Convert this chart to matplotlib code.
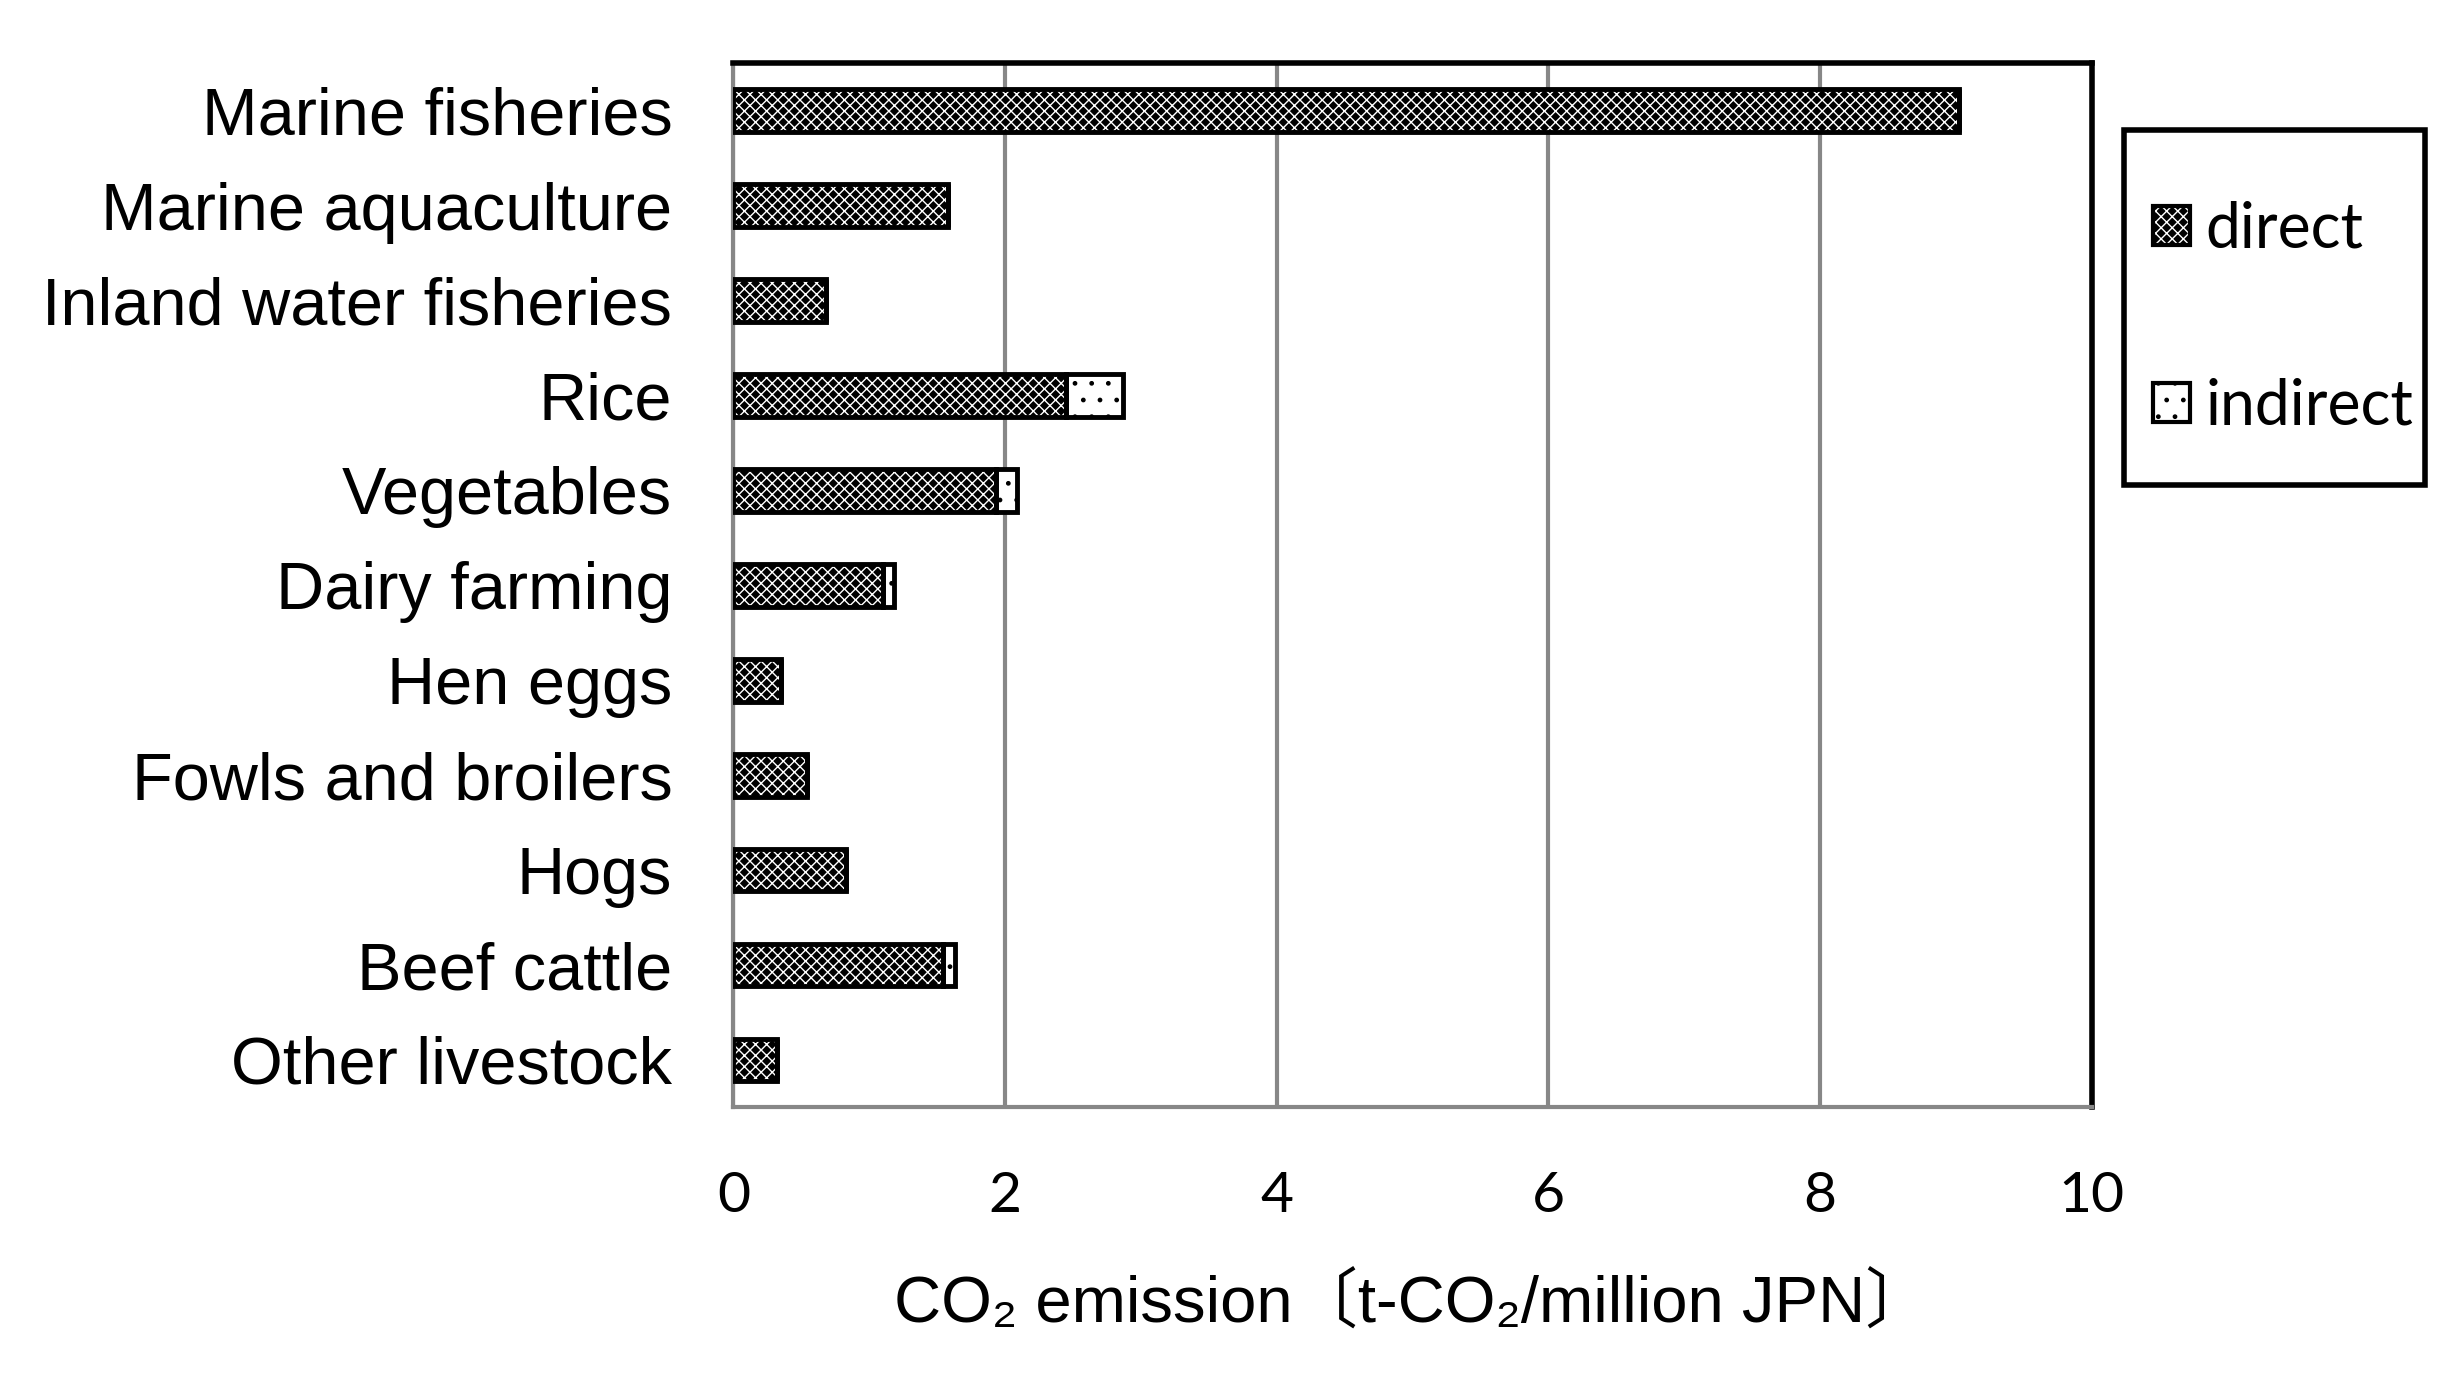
import matplotlib
matplotlib.use("Agg")

import numpy as np
import matplotlib.pyplot as plt
from matplotlib.patches import Patch, Rectangle
from matplotlib.legend_handler import HandlerTuple

# ---- data (t-CO2 / million JPN) ----
categories = [
    "Marine fisheries", "Marine aquaculture", "Inland water fisheries", "Rice",
    "Vegetables", "Dairy farming", "Hen eggs", "Fowls and broilers", "Hogs",
    "Beef cattle", "Other livestock",
]
direct = [9.02, 1.58, 0.68, 2.45, 1.93, 1.10, 0.35, 0.54, 0.83, 1.54, 0.32]
indirect = [0.0, 0.0, 0.0, 0.42, 0.16, 0.08, 0.0, 0.0, 0.0, 0.09, 0.0]
xticks = [0, 2, 4, 6, 8, 10]
series_labels = ["direct", "indirect"]

LABEL_FONT = ["Liberation Sans", "Noto Sans CJK JP", "DejaVu Sans"]
TICK_FONT = ["Lato", "DejaVu Sans"]
GRID_GRAY = "#878787"
DIRECT_HATCH = "xxx"
INDIRECT_HATCH = "."

plt.rcParams["font.family"] = LABEL_FONT
plt.rcParams["hatch.linewidth"] = 1.0

fig = plt.figure(figsize=(24.61, 13.74), dpi=100)
ax = fig.add_axes([0.298, 0.194, 0.552, 0.760])

y = np.arange(len(categories))
h = 0.45
direct = np.array(direct)
indirect = np.array(indirect)

# direct: black with white cross hatch; indirect: white with black dots
ax.barh(y, direct, height=h, color="black", edgecolor="white",
        hatch=DIRECT_HATCH, linewidth=0, zorder=2)
ax.barh(y, indirect, left=direct, height=h, color="white", edgecolor="black",
        hatch=INDIRECT_HATCH, linewidth=0, zorder=2)
# black outlines drawn on top
ax.barh(y, direct, height=h, fill=False, edgecolor="black", linewidth=3.5, zorder=3)
ax.barh(y, indirect, left=direct, height=h, fill=False, edgecolor="black",
        linewidth=3.5, zorder=3)

ax.set_xlim(0, 10)
ax.set_ylim(len(categories) - 0.5, -0.5)
ax.set_xticks(xticks)
ax.set_xticklabels([str(t) for t in xticks], fontsize=41, family=TICK_FONT)
ax.set_yticks(y)
ax.set_yticklabels(categories, fontsize=48)
ax.tick_params(axis="both", length=0)
ax.tick_params(axis="y", pad=44)
ax.tick_params(axis="x", pad=46)

ax.xaxis.grid(True, color=GRID_GRAY, linewidth=3.0)
ax.set_axisbelow(True)
for side in ("left", "bottom"):
    ax.spines[side].set_color(GRID_GRAY)
    ax.spines[side].set_linewidth(3.0)
for side in ("top", "right"):
    ax.spines[side].set_color("black")
    ax.spines[side].set_linewidth(4)

ax.set_xlabel("CO\u2082 emission\u3014t-CO\u2082/million JPN\u3015",
              fontsize=47, labelpad=36)

# legend: fixed black box, entries placed inside it
fig.add_artist(Rectangle((0.8629, 0.6469), 0.1224, 0.2582, transform=fig.transFigure,
                         facecolor="white", edgecolor="black", linewidth=4))
h_direct = (Patch(facecolor="black", edgecolor="white", hatch=DIRECT_HATCH, linewidth=0),
            Patch(fill=False, edgecolor="black", linewidth=3))
h_indirect = (Patch(facecolor="white", edgecolor="black", hatch=INDIRECT_HATCH, linewidth=0),
              Patch(fill=False, edgecolor="black", linewidth=3))
leg = fig.legend([h_direct, h_indirect], series_labels,
                 handler_map={tuple: HandlerTuple(ndivide=1, pad=0)},
                 loc="center left", bbox_to_anchor=(0.8750, 0.7686),
                 prop={"family": TICK_FONT, "size": 45},
                 handlelength=0.58, handleheight=0.58, handletextpad=0.25,
                 labelspacing=1.9, borderpad=0, borderaxespad=0,
                 frameon=False)

fig.savefig("out.png", dpi=100)
